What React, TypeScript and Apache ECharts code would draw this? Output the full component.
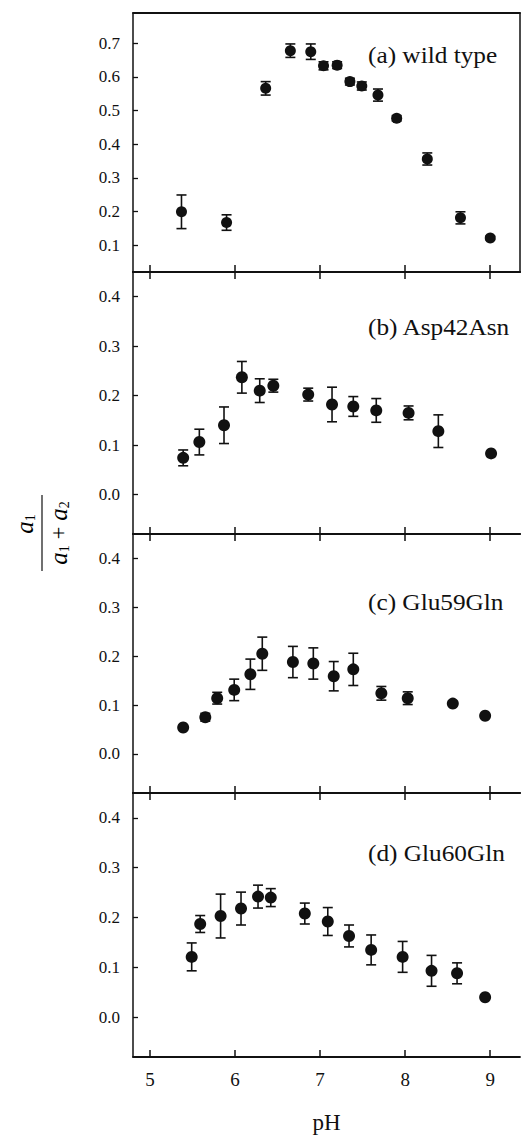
import React, { useEffect, useRef } from 'react';
import * as echarts from 'echarts';

// ---- data ----
const phA = [5.37, 5.90, 6.36, 6.65, 6.89, 7.04, 7.20, 7.35, 7.49, 7.68, 7.90, 8.26, 8.65, 9.00];
const valA = [0.199, 0.167, 0.566, 0.678, 0.675, 0.633, 0.635, 0.586, 0.573, 0.546, 0.477, 0.356, 0.181, 0.121];
const errA = [0.05, 0.023, 0.02, 0.02, 0.023, 0.012, 0.01, 0.01, 0.012, 0.018, 0.008, 0.018, 0.018, 0.005];

const phB = [5.39, 5.58, 5.87, 6.08, 6.29, 6.45, 6.86, 7.14, 7.39, 7.66, 8.04, 8.39, 9.01];
const valB = [0.074, 0.106, 0.140, 0.237, 0.210, 0.220, 0.202, 0.182, 0.178, 0.170, 0.165, 0.128, 0.083];
const errB = [0.016, 0.026, 0.037, 0.032, 0.024, 0.013, 0.013, 0.035, 0.02, 0.024, 0.014, 0.033, 0];

const phC = [5.39, 5.65, 5.79, 5.99, 6.18, 6.32, 6.68, 6.92, 7.16, 7.39, 7.72, 8.03, 8.56, 8.94];
const valC = [0.054, 0.075, 0.114, 0.131, 0.163, 0.205, 0.188, 0.185, 0.159, 0.173, 0.124, 0.114, 0.103, 0.078];
const errC = [0, 0.008, 0.012, 0.022, 0.031, 0.034, 0.032, 0.032, 0.03, 0.033, 0.014, 0.013, 0, 0];

const phD = [5.49, 5.59, 5.83, 6.07, 6.27, 6.42, 6.82, 7.09, 7.34, 7.60, 7.97, 8.31, 8.61, 8.94];
const valD = [0.121, 0.187, 0.203, 0.218, 0.242, 0.240, 0.208, 0.192, 0.163, 0.135, 0.121, 0.093, 0.088, 0.040];
const errD = [0.028, 0.017, 0.044, 0.033, 0.023, 0.018, 0.021, 0.028, 0.022, 0.030, 0.031, 0.031, 0.021, 0];

const panelLabels = ['(a) wild type', '(b) Asp42Asn', '(c) Glu59Gln', '(d) Glu60Gln'];
const xTicks = [5, 6, 7, 8, 9];
const yTicksA = [0.1, 0.2, 0.3, 0.4, 0.5, 0.6, 0.7];
const yTicksMut = [0.0, 0.1, 0.2, 0.3, 0.4];
const xName = 'pH';

const INK = '#111111';
const SERIF = 'Liberation Serif';

export default function App() {
  const ref = useRef<HTMLDivElement>(null);

  useEffect(() => {
    if (!ref.current) return;
    const chart = echarts.init(ref.current, undefined, { renderer: 'svg' });

    const xMin = 4.8, xMax = 9.35;
    const grids = [
      { left: 133, top: 13, width: 387, height: 259 },
      { left: 133, top: 272, width: 387, height: 262 },
      { left: 133, top: 534, width: 387, height: 259 },
      { left: 133, top: 793, width: 387, height: 264 },
    ];
    const panels = [
      { ph: phA, val: valA, err: errA, yMin: 0.02, yMax: 0.79, ticks: yTicksA },
      { ph: phB, val: valB, err: errB, yMin: -0.08, yMax: 0.45, ticks: yTicksMut },
      { ph: phC, val: valC, err: errC, yMin: -0.08, yMax: 0.45, ticks: yTicksMut },
      { ph: phD, val: valD, err: errD, yMin: -0.08, yMax: 0.45, ticks: yTicksMut },
    ];

    const xAxes: any[] = [];
    const yAxes: any[] = [];
    const series: any[] = [];

    panels.forEach((p, i) => {
      const last = i === panels.length - 1;
      xAxes.push({
        type: 'value', gridIndex: i, position: 'bottom', min: xMin, max: xMax,
        axisLine: { show: true, onZero: false, lineStyle: { color: INK, width: 1.8 } },
        axisTick: { show: true, inside: true, length: 7, customValues: xTicks, lineStyle: { color: INK, width: 1.5 } },
        axisLabel: { show: last, customValues: xTicks, margin: 13, color: INK, fontFamily: SERIF, fontSize: 19 },
        splitLine: { show: false },
        name: last ? xName : '', nameLocation: 'middle', nameGap: 54,
        nameTextStyle: { color: INK, fontFamily: SERIF, fontSize: 23 },
      });
      xAxes.push({
        type: 'value', gridIndex: i, position: 'top', min: xMin, max: xMax,
        axisLine: { show: true, onZero: false, lineStyle: { color: INK, width: 1.8 } },
        axisTick: { show: i > 0, inside: true, length: 7, customValues: xTicks, lineStyle: { color: INK, width: 1.5 } },
        axisLabel: { show: false },
        splitLine: { show: false },
      });
      yAxes.push({
        type: 'value', gridIndex: i, position: 'left', min: p.yMin, max: p.yMax,
        axisLine: { show: true, onZero: false, lineStyle: { color: INK, width: 1.5 } },
        axisTick: { show: true, inside: true, length: 5, customValues: p.ticks, lineStyle: { color: INK, width: 1.3 } },
        axisLabel: {
          customValues: p.ticks, margin: 13, color: INK, fontFamily: SERIF, fontSize: 17,
          formatter: (v: number) => v.toFixed(1),
        },
        splitLine: { show: false },
      });
      if (i === 0) {
        yAxes.push({
          type: 'value', gridIndex: i, position: 'right', min: p.yMin, max: p.yMax,
          axisLine: { show: true, onZero: false, lineStyle: { color: INK, width: 1.5 } },
          axisTick: { show: false }, axisLabel: { show: false }, splitLine: { show: false },
        });
      }
      const yIdx = i === 0 ? 0 : i + 1;
      const data = p.ph.map((x, k) => [x, p.val[k], p.err[k]]);
      series.push({
        type: 'custom', xAxisIndex: 2 * i, yAxisIndex: yIdx, data,
        encode: { x: 0, y: 1 }, silent: true, z: 2,
        renderItem: (params: any, api: any) => {
          const x = api.value(0), y = api.value(1), e = api.value(2);
          if (!e) return null;
          const t = api.coord([x, y + e]);
          const b = api.coord([x, y - e]);
          const hw = 5;
          const st = { stroke: INK, lineWidth: 1.6 };
          return {
            type: 'group', children: [
              { type: 'line', shape: { x1: t[0], y1: t[1], x2: b[0], y2: b[1] }, style: st },
              { type: 'line', shape: { x1: t[0] - hw, y1: t[1], x2: t[0] + hw, y2: t[1] }, style: st },
              { type: 'line', shape: { x1: b[0] - hw, y1: b[1], x2: b[0] + hw, y2: b[1] }, style: st },
            ],
          };
        },
      });
      series.push({
        type: 'scatter', xAxisIndex: 2 * i, yAxisIndex: yIdx, data: p.ph.map((x, k) => [x, p.val[k]]),
        symbol: 'circle', symbolSize: i === 0 ? 11 : 12, itemStyle: { color: INK, opacity: 1 }, z: 3,
      });
    });

    const labelY = [55, 327, 602, 853];
    const graphics: any[] = panelLabels.map((t, i) => ({
      type: 'text', x: 368, y: labelY[i], scaleX: 1.1,
      style: {
        text: t, fill: INK, fontFamily: SERIF, fontSize: 23,
        align: 'left', textAlign: 'left', verticalAlign: 'middle', textVerticalAlign: 'middle',
      },
    }));

    const rich = {
      i: { fontFamily: SERIF, fontStyle: 'italic', fontSize: 25, lineHeight: 26, color: INK },
      s: { fontFamily: SERIF, fontSize: 14, lineHeight: 14, verticalAlign: 'bottom', color: INK },
      o: { fontFamily: SERIF, fontSize: 23, lineHeight: 26, color: INK },
    };
    graphics.push({
      type: 'group', x: 42, y: 533, rotation: Math.PI / 2,
      children: [
        { type: 'line', shape: { x1: -38, y1: 0, x2: 38, y2: 0 }, style: { stroke: INK, lineWidth: 1.2 } },
        {
          type: 'text', x: 9, y: -5,
          style: { text: '{i|a}{s|1}', rich, align: 'center', textAlign: 'center', verticalAlign: 'bottom', textVerticalAlign: 'bottom' },
        },
        {
          type: 'text', x: 0, y: 3,
          style: { text: '{i|a}{s|1}{o| + }{i|a}{s|2}', rich, align: 'center', textAlign: 'center', verticalAlign: 'top', textVerticalAlign: 'top' },
        },
      ],
    });

    chart.setOption({
      animation: false,
      backgroundColor: '#ffffff',
      grid: grids.map((g) => ({ ...g, containLabel: false })),
      xAxis: xAxes,
      yAxis: yAxes,
      series,
      graphic: graphics,
    });

    return () => chart.dispose();
  }, []);

  return (
    <div
      ref={ref}
      style={{ position: 'absolute', left: 0, top: 0, width: 521, height: 1137, background: '#fff' }}
    />
  );
}
